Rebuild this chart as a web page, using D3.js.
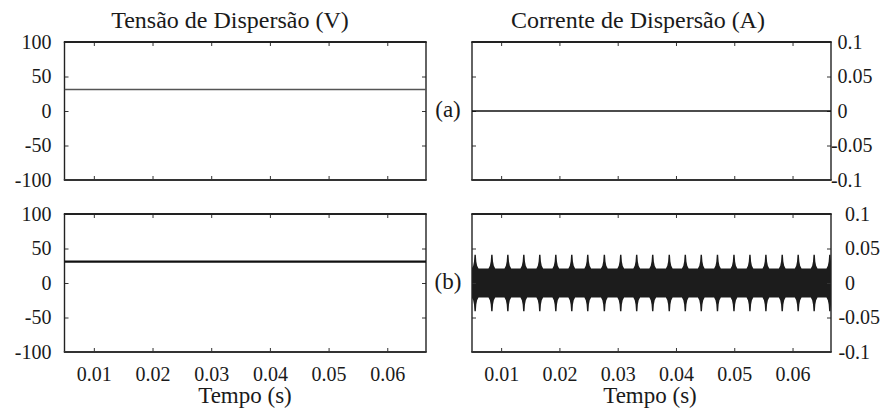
<!DOCTYPE html>
<html>
<head>
<meta charset="utf-8">
<script src="https://cdn.jsdelivr.net/npm/d3@7"></script>
<style>
  body { margin: 0; background: #fff; }
  svg { display: block; font-family: "Liberation Serif", "Times New Roman", serif; }
</style>
</head>
<body>
<svg id="chart" width="880" height="415"></svg>
<script>
// time axis (s)
const tempoDominio = [0.005, 0.0666];
const tempoTicks = [0.01, 0.02, 0.03, 0.04, 0.05, 0.06];
const tensaoTicks = [-100, -50, 0, 50, 100];
const correnteTicks = [-0.1, -0.05, 0, 0.05, 0.1];

// (a) and (b) flat series
const tempoSerie = [0.005, 0.0666];
const tensaoA = [31, 31];
const tensaoB = [31, 31];
const correnteA = [0, 0];

// (b) leakage current: dense oscillation, drawn by its envelope
const faixaAmp = 0.021;
const picoTempos = [0.00554, 0.00841, 0.01115, 0.01389, 0.01663, 0.01938, 0.02212, 0.02486,
  0.02771, 0.03052, 0.03326, 0.03601, 0.03885, 0.04160, 0.04434, 0.04712, 0.04995,
  0.05269, 0.05543, 0.05823, 0.06097, 0.06371, 0.06640];
const perfilDt = [-0.00058, -0.00034, -0.0002, -0.00012, 0.00012, 0.0002, 0.00034, 0.00058];
const perfilAmp = [0.021, 0.025, 0.031, 0.041, 0.041, 0.031, 0.025, 0.021];

const svg = d3.select("#chart");

const colX = { left: [64.5, 426], right: [472, 831] };
const rowY = { top: [42, 180], bottom: [214, 352] };

function panel(id, cx, ry, yDomain, yTicks, opts) {
    const x = d3.scaleLinear().domain(tempoDominio).range(cx);
    const y = d3.scaleLinear().domain(yDomain).range([ry[1], ry[0]]);
    const g = svg.append("g");

    g.append("clipPath").attr("id", "clip-" + id)
        .append("rect")
        .attr("x", cx[0]).attr("y", ry[0])
        .attr("width", cx[1] - cx[0]).attr("height", ry[1] - ry[0]);

    const noLabel = () => "";

    // ticks on all four sides, pointing inward
    g.append("g").attr("transform", `translate(0,${ry[0]})`)
        .call(d3.axisTop(x).tickValues(tempoTicks).tickSizeInner(-4).tickSizeOuter(0).tickFormat(noLabel));
    g.append("g").attr("transform", `translate(0,${ry[1]})`)
        .call(d3.axisBottom(x).tickValues(tempoTicks).tickSizeInner(-4).tickSizeOuter(0).tickPadding(14.5)
            .tickFormat(opts.xLabels ? d => String(d) : noLabel));
    g.append("g").attr("transform", `translate(${cx[0]},0)`)
        .call(d3.axisLeft(y).tickValues(yTicks).tickSizeInner(-4).tickSizeOuter(0).tickPadding(13)
            .tickFormat(opts.yLeft ? d => String(d) : noLabel));
    const yr = g.append("g").attr("transform", `translate(${cx[1]},0)`)
        .call(d3.axisRight(y).tickValues(yTicks).tickSizeInner(-4).tickSizeOuter(0).tickPadding(opts.rightPad || 6)
            .tickFormat(opts.yRight ? d => String(d) : noLabel));

    g.selectAll(".domain").remove();
    g.selectAll(".tick line").attr("stroke", "#333").attr("stroke-width", 1);
    g.selectAll(".tick text")
        .attr("fill", "#1a1a1a")
        .style("font-family", "'Liberation Serif', serif")
        .style("font-size", "20px");
    yr.selectAll(".tick text").attr("dx", d => d < 0 ? "-0.33em" : 0);

    // frame
    g.append("line").attr("x1", cx[0]).attr("x2", cx[0]).attr("y1", ry[0]).attr("y2", ry[1])
        .attr("stroke", "#222").attr("stroke-width", 1.4);
    g.append("line").attr("x1", cx[1]).attr("x2", cx[1]).attr("y1", ry[0]).attr("y2", ry[1])
        .attr("stroke", "#222").attr("stroke-width", 1.4);
    g.append("line").attr("x1", cx[0] - 0.7).attr("x2", cx[1] + 0.7).attr("y1", ry[0]).attr("y2", ry[0])
        .attr("stroke", "#222").attr("stroke-width", 2);
    g.append("line").attr("x1", cx[0] - 0.7).attr("x2", cx[1] + 0.7).attr("y1", ry[1]).attr("y2", ry[1])
        .attr("stroke", "#333").attr("stroke-width", 2);

    return { g, x, y, clip: "url(#clip-" + id + ")" };
}

function flatLine(p, values, color, width) {
    const line = d3.line().x((d, i) => p.x(tempoSerie[i])).y(d => p.y(d));
    p.g.append("path")
        .datum(values)
        .attr("clip-path", p.clip)
        .attr("fill", "none")
        .attr("stroke", color)
        .attr("stroke-width", width)
        .attr("d", line);
}

// panels
const pTA = panel("ta", colX.left, rowY.top, [-100, 100], tensaoTicks, { yLeft: true });
const pCA = panel("ca", colX.right, rowY.top, [-0.1, 0.1], correnteTicks, { yRight: true, rightPad: 6.5 });
const pTB = panel("tb", colX.left, rowY.bottom, [-100, 100], tensaoTicks, { yLeft: true, xLabels: true });
const pCB = panel("cb", colX.right, rowY.bottom, [-0.1, 0.1], correnteTicks, { yRight: true, xLabels: true, rightPad: 14 });

flatLine(pTA, tensaoA, "#555", 1.5);
flatLine(pCA, correnteA, "#111", 1.3);
flatLine(pTB, tensaoB, "#111", 2.2);

// envelope of the (b) current
const envelope = [[tempoDominio[0], faixaAmp]];
picoTempos.forEach(t => {
    perfilDt.forEach((dt, i) => envelope.push([t + dt, perfilAmp[i]]));
});
envelope.push([tempoDominio[1], faixaAmp]);

const area = d3.area()
    .x(d => pCB.x(d[0]))
    .y0(d => pCB.y(-d[1]))
    .y1(d => pCB.y(d[1]));

pCB.g.insert("path", ":first-child")
    .datum(envelope)
    .attr("clip-path", pCB.clip)
    .attr("fill", "#1c1c1c")
    .attr("d", area);

// texts
const txt = (x, y, s, size, anchor) => svg.append("text")
    .attr("x", x).attr("y", y)
    .attr("text-anchor", anchor || "middle")
    .attr("fill", "#1a1a1a")
    .style("font-size", size + "px")
    .text(s);

txt(230, 28, "Tensão de Dispersão (V)", 24);
txt(638, 28, "Corrente de Dispersão (A)", 24);
txt(448, 117, "(a)", 23);
txt(448, 289, "(b)", 23);
txt(245, 403, "Tempo (s)", 23);
txt(650, 403, "Tempo (s)", 23);
</script>
</body>
</html>
